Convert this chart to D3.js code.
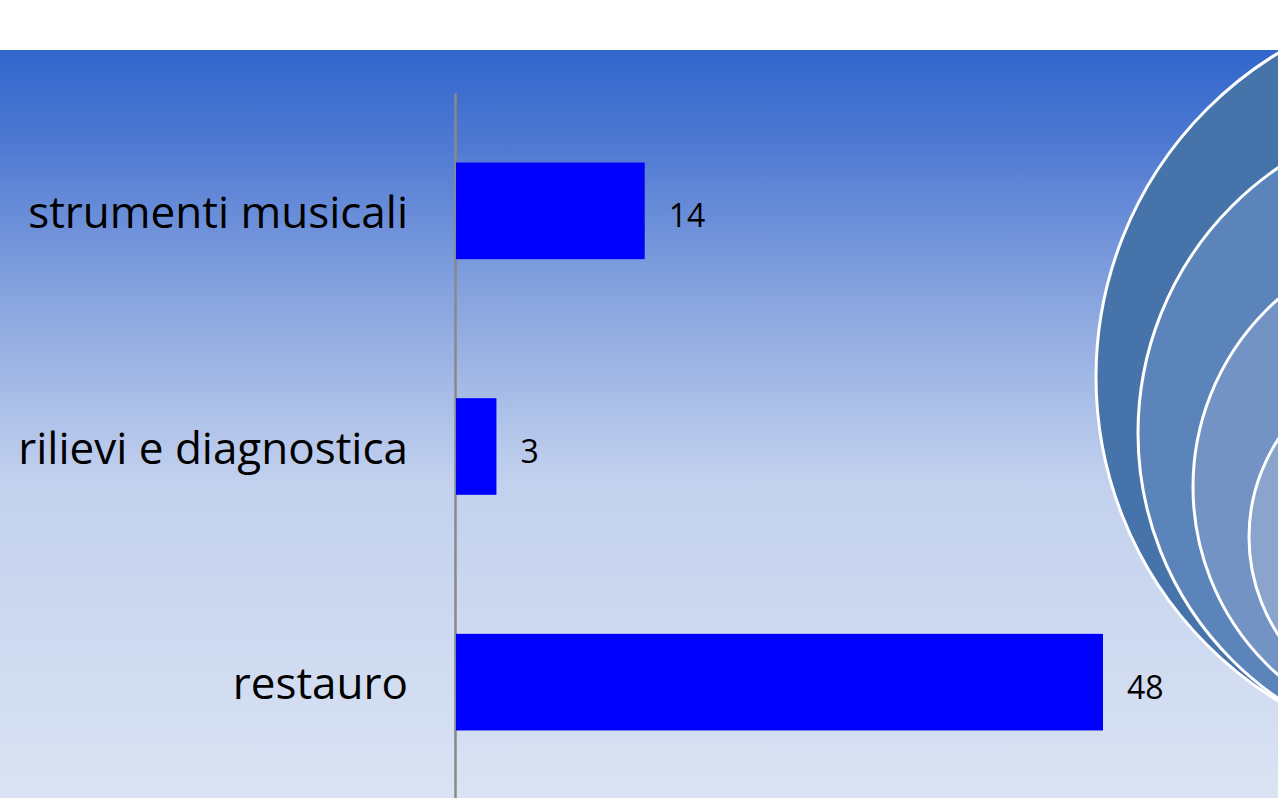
<!DOCTYPE html>
<html>
<head>
<meta charset="utf-8">
<script src="https://cdn.jsdelivr.net/npm/d3@7"></script>
<style>
  html, body { margin: 0; padding: 0; background: #ffffff; }
  svg { display: block; }
</style>
</head>
<body>
<svg id="chart" width="1278" height="798"></svg>
<script>
// Chart data
const categories = ["strumenti musicali", "rilievi e diagnostica", "restauro"];
const values = [14, 3, 48];

// Decorative nested discs on the right edge (centre x, centre y, radius, fill)
const discs = [
  { cx: 1475, cy: 377, r: 379, fill: "#4674AA" },
  { cx: 1459, cy: 433, r: 321, fill: "#5B84BA" },
  { cx: 1443, cy: 487, r: 250, fill: "#7293C4" },
  { cx: 1427, cy: 537, r: 178, fill: "#8BA4CC" }
];

const W = 1278, H = 798;
const svg = d3.select("#chart");
const defs = svg.append("defs");

// Background: white band, then vertical blue gradient panel
const grad = defs.append("linearGradient")
  .attr("id", "bg").attr("x1", 0).attr("y1", 0).attr("x2", 0).attr("y2", 1);
[["0%", "#3166CC"], ["12%", "#4D78D2"], ["35%", "#8DA8E0"], ["58%", "#C3D1EE"], ["100%", "#DAE3F3"]]
  .forEach(([o, c]) => grad.append("stop").attr("offset", o).attr("stop-color", c));

svg.append("rect").attr("width", W).attr("height", H).attr("fill", "#ffffff");
svg.append("rect").attr("x", 0).attr("y", 50).attr("width", W).attr("height", H - 50)
  .attr("fill", "url(#bg)");

// Nested discs
svg.append("g").selectAll("circle").data(discs).join("circle")
  .attr("cx", d => d.cx).attr("cy", d => d.cy).attr("r", d => d.r)
  .attr("fill", d => d.fill)
  .attr("stroke", "#ffffff").attr("stroke-width", 3);

// Scales
const x = d3.scaleLinear().domain([0, 48]).range([456, 1103]);
const y = d3.scaleBand().domain(categories).range([93, 800])
  .paddingInner(0.59).paddingOuter(0.295);

// Category axis
const axis = svg.append("g")
  .attr("transform", "translate(455,0)")
  .call(d3.axisLeft(y).tickSize(0).tickSizeOuter(0).tickPadding(47));
axis.select(".domain").attr("stroke", "#898989").attr("stroke-width", 2.5);
axis.selectAll(".tick text")
  .attr("fill", "#000000")
  .attr("font-family", "'Open Sans', sans-serif")
  .attr("font-size", 44)
  .attr("dy", "0.39em");

// Bars
const rows = categories.map((c, i) => ({ c, v: values[i] }));
svg.append("g").selectAll("rect").data(rows).join("rect")
  .attr("x", x(0))
  .attr("y", d => y(d.c))
  .attr("width", d => x(d.v) - x(0))
  .attr("height", y.bandwidth())
  .attr("fill", "#0000FF");

// Value labels
svg.append("g").selectAll("text").data(rows).join("text")
  .attr("x", d => x(d.v) + 24)
  .attr("y", d => y(d.c) + y.bandwidth() / 2)
  .attr("dy", "0.52em")
  .attr("font-family", "'Open Sans', sans-serif")
  .attr("font-size", 32)
  .attr("fill", "#000000")
  .text(d => d.v);
</script>
</body>
</html>
